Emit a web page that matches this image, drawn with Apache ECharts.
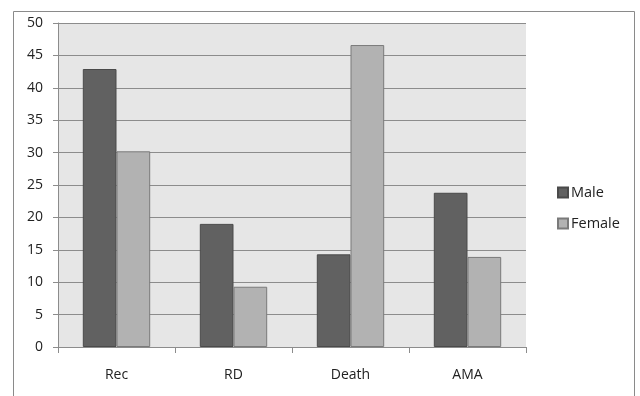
<!DOCTYPE html>
<html>
<head>
<meta charset="utf-8">
<script src="https://cdn.jsdelivr.net/npm/echarts@6/dist/echarts.min.js"></script>
<style>
  html, body { margin: 0; padding: 0; background: #ffffff; }
  #chart { width: 640px; height: 396px; }
</style>
</head>
<body>
<div id="chart"></div>
<script>
// Outcome percentages by sex
const categories = ['Rec', 'RD', 'Death', 'AMA'];
const maleValues = [42.9, 19.0, 14.3, 23.8];
const femaleValues = [30.2, 9.3, 46.6, 13.9];
const yTicks = [0, 5, 10, 15, 20, 25, 30, 35, 40, 45, 50];

const FONT = '"Open Sans", "Liberation Sans", sans-serif';
const chart = echarts.init(document.getElementById('chart'), null, { renderer: 'canvas' });

const gridBox = { left: 58, top: 23, width: 468, height: 324 };

chart.setOption({
  animation: false,
  backgroundColor: '#ffffff',
  graphic: [
    {
      type: 'rect',
      shape: { x: 13.5, y: 11.5, width: 621, height: 400 },
      style: { fill: 'none', stroke: '#8a8a8a', lineWidth: 1 },
      z: -10
    }
  ],
  grid: Object.assign({ backgroundColor: '#e6e6e6', show: true, borderWidth: 0 }, gridBox),
  legend: {
    orient: 'vertical',
    left: 552,
    top: 180,
    itemWidth: 10,
    itemHeight: 10,
    itemGap: 16,
    icon: 'rect',
    textStyle: { fontFamily: FONT, fontSize: 14.5, color: '#222222', padding: [0, 0, 0, -2] },
    data: ['Male', 'Female']
  },
  xAxis: {
    type: 'category',
    data: categories,
    axisLine: { lineStyle: { color: '#8c8c8c', width: 1 } },
    axisTick: { show: true, alignWithLabel: false, length: 6, lineStyle: { color: '#8c8c8c' } },
    axisLabel: { fontFamily: FONT, fontSize: 14, color: '#222222', margin: 21 }
  },
  yAxis: {
    type: 'value',
    min: yTicks[0],
    max: yTicks[yTicks.length - 1],
    interval: 5,
    axisLine: { show: true, lineStyle: { color: '#8c8c8c', width: 1 } },
    axisTick: { show: true, length: 5, lineStyle: { color: '#8c8c8c' } },
    splitLine: { show: true, lineStyle: { color: '#8c8c8c', width: 1 } },
    axisLabel: { fontFamily: FONT, fontSize: 14, color: '#222222', margin: 15 }
  },
  series: [
    {
      name: 'Male',
      type: 'bar',
      data: maleValues,
      barWidth: '28.8%',
      barGap: '0%',
      itemStyle: { color: '#616161', borderColor: '#4a4a4a', borderWidth: 1 }
    },
    {
      name: 'Female',
      type: 'bar',
      data: femaleValues,
      barWidth: '28.8%',
      itemStyle: { color: '#b2b2b2', borderColor: '#7a7a7a', borderWidth: 1 }
    }
  ]
});
</script>
</body>
</html>
